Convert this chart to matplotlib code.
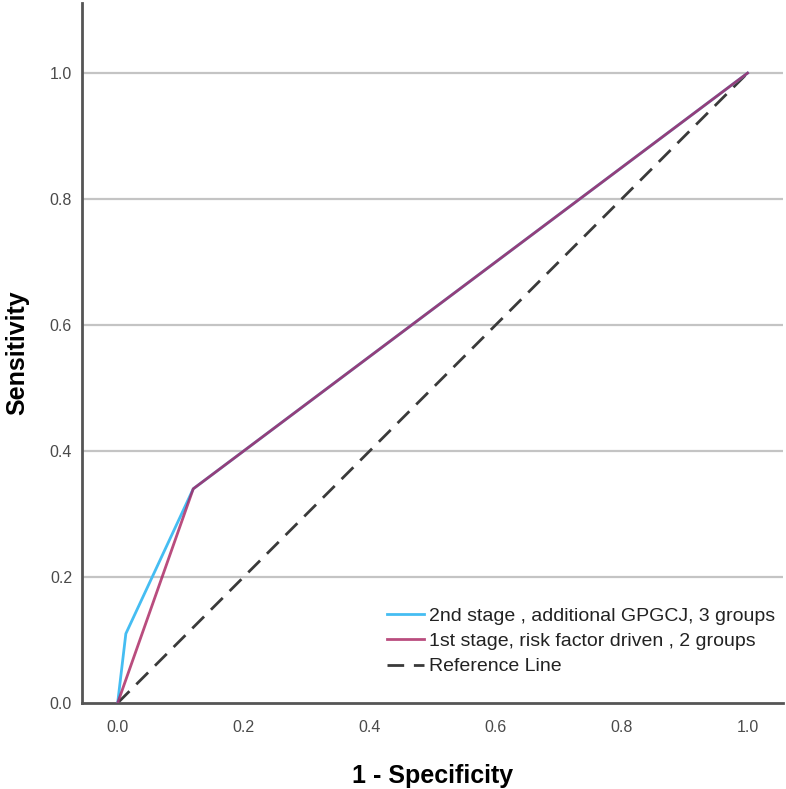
import numpy as np
import matplotlib
matplotlib.use("Agg")
import matplotlib.pyplot as plt

plt.rcParams['font.family'] = ['Liberation Sans', 'DejaVu Sans']

# ROC curve points (1 - specificity, sensitivity)
stage2_fpr = [0.0, 0.013, 0.12, 1.0]
stage2_tpr = [0.0, 0.11, 0.34, 1.0]
stage1_fpr = [0.0, 0.12, 1.0]
stage1_tpr = [0.0, 0.34, 1.0]
ref_x = [0.0, 1.0]
ref_y = [0.0, 1.0]

labels = ["2nd stage , additional GPGCJ, 3 groups",
          "1st stage, risk factor driven , 2 groups",
          "Reference Line"]
ticks = [0.0, 0.2, 0.4, 0.6, 0.8, 1.0]

fig = plt.figure(figsize=(7.86, 7.89), dpi=100)
ax = fig.add_axes([0.104, 0.109, 0.892, 0.887])

ax.plot(stage2_fpr, stage2_tpr, color="#45bdf2", lw=2, label=labels[0], zorder=3)
ax.plot(stage1_fpr, stage1_tpr, color="#a8205e", lw=2, alpha=0.8, label=labels[1], zorder=4)
ax.plot(ref_x, ref_y, color="#3a3a3a", lw=2, ls=(0, (6, 3.5)), label=labels[2], zorder=2)

ax.set_xlim(-0.057, 1.056)
ax.set_ylim(0.0, 1.111)
ax.set_xticks(ticks)
ax.set_yticks(ticks)
ax.set_xticklabels([f"{t:.1f}" for t in ticks])
ax.set_yticklabels([f"{t:.1f}" for t in ticks])
ax.tick_params(length=0, labelsize=11.5, labelcolor="#4a4a4a")
ax.tick_params(axis="y", pad=7)
ax.tick_params(axis="x", pad=12)

for y in ticks[1:]:
    ax.axhline(y, color="#c4c4c4", lw=1.6, zorder=1)

for s in ["top", "right"]:
    ax.spines[s].set_visible(False)
for s in ["left", "bottom"]:
    ax.spines[s].set_color("#555555")
    ax.spines[s].set_linewidth(2)

ax.set_xlabel("1 - Specificity", fontsize=18, fontweight="bold", labelpad=21)
ax.set_ylabel("Sensitivity", fontsize=18, fontweight="bold", labelpad=15)

leg = ax.legend(loc="lower right", bbox_to_anchor=(1.009, 0.02), frameon=False,
                fontsize=14, handlelength=1.9, handletextpad=0.3,
                labelspacing=0.4, borderaxespad=0.3)
for t in leg.get_texts():
    t.set_color("#222222")

fig.savefig("out.png", dpi=100)
